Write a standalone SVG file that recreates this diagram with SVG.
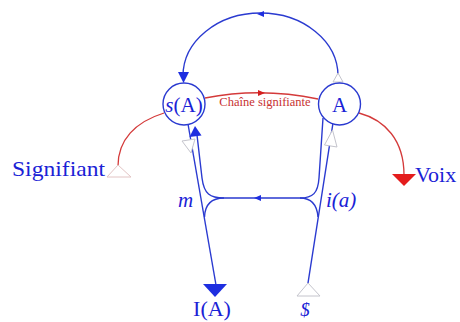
<svg xmlns="http://www.w3.org/2000/svg" width="460" height="322" viewBox="0 0 460 322">
<style>
.b{fill:none;stroke:#2a3ad0;stroke-width:1.4}
.r{fill:none;stroke:#d43a3a;stroke-width:1.3}
.bf{fill:#1e2ee0;stroke:none}
.rf{fill:#e41c1c;stroke:none}
.ho{fill:#fff;stroke:#c4c4cc;stroke-width:1}
.hr{fill:#fff;stroke:#e2c4c4;stroke-width:1}
.node{fill:#fff;stroke:#2a3ad0;stroke-width:1.4}
.t{font-family:"Liberation Serif","Times New Roman",serif;fill:#1a22d6}
.i{font-style:italic}
</style>
<rect width="460" height="322" fill="#fff"/>
<g id="connectors">
  <path class="b" d="M338 76 A77.5 63 0 0 0 183 76"/>
  <polygon class="bf" points="257,14 264,11 264,17"/>
  <polygon class="bf" points="178,72 189,72 183.5,83"/>
  <polygon class="ho" points="338,73 333,82 343,82"/>
  <path class="r" d="M205 98 Q261 87 318 99"/>
  <polygon points="258,90 258,96 265,93" fill="#d42020"/>
  <path class="r" d="M164 113 C135 122 118 140 118 166"/>
  <polygon class="hr" points="118,165 107,177 131,177"/>
  <path class="r" d="M359 113 C385 120 404 140 404 175"/>
  <polygon class="rf" points="392,174 416,174 404,186"/>
  <path class="b" d="M188 124 L216 285"/>
  <polygon class="ho" points="182,141 195,139 191,153"/>
  <polygon class="bf" points="203,284 227,284 215,297"/>
  <path class="b" d="M197 135 L202 178 C204 194 210 198 224 198 L300 198 C313 198 318 193 319 178 L323 118"/>
  <polygon class="bf" points="195,126 189.5,137 201.5,135.5"/>
  <path class="b" d="M224 198 C212 198 205 204 204.5 217"/>
  <path class="b" d="M300 198 C311 198 317 204 318 217"/>
  <path class="b" d="M333 123 L308 283"/>
  <polygon class="ho" points="332.5,130 324.5,145 337,147"/>
  <polygon class="ho" points="308,283 297,296 320,296"/>
  <polygon class="bf" points="254,198 261,195 261,201"/>
</g>
<g id="node-sA">
  <circle class="node" cx="184" cy="104" r="21"/>
  <text class="t" x="184" y="112" font-size="21" text-anchor="middle"><tspan class="i">s</tspan>(A)</text>
</g>
<g id="node-A">
  <circle class="node" cx="339.5" cy="104" r="21"/>
  <text class="t" x="339.5" y="112" font-size="21" text-anchor="middle">A</text>
</g>
<g id="label-chaine">
  <text x="265" y="106" font-size="12.5" text-anchor="middle" font-family="Liberation Serif, serif" fill="#c83232">Chaîne signifiante</text>
</g>
<g id="node-signifiant">
  <text class="t" x="12" y="176" font-size="22" textLength="93" lengthAdjust="spacingAndGlyphs">Signifiant</text>
</g>
<g id="node-voix">
  <text class="t" x="415" y="182" font-size="22">Voix</text>
</g>
<g id="node-IA">
  <text class="t" x="212" y="316" font-size="22" text-anchor="middle">I(A)</text>
</g>
<g id="node-S">
  <text class="t i" x="305" y="316" font-size="19" text-anchor="middle" fill="#1a22d6">$</text>
</g>
<g id="label-m">
  <text class="t i" x="178" y="207" font-size="21">m</text>
</g>
<g id="label-ia">
  <text class="t i" x="326" y="207" font-size="21">i(a)</text>
</g>
</svg>
